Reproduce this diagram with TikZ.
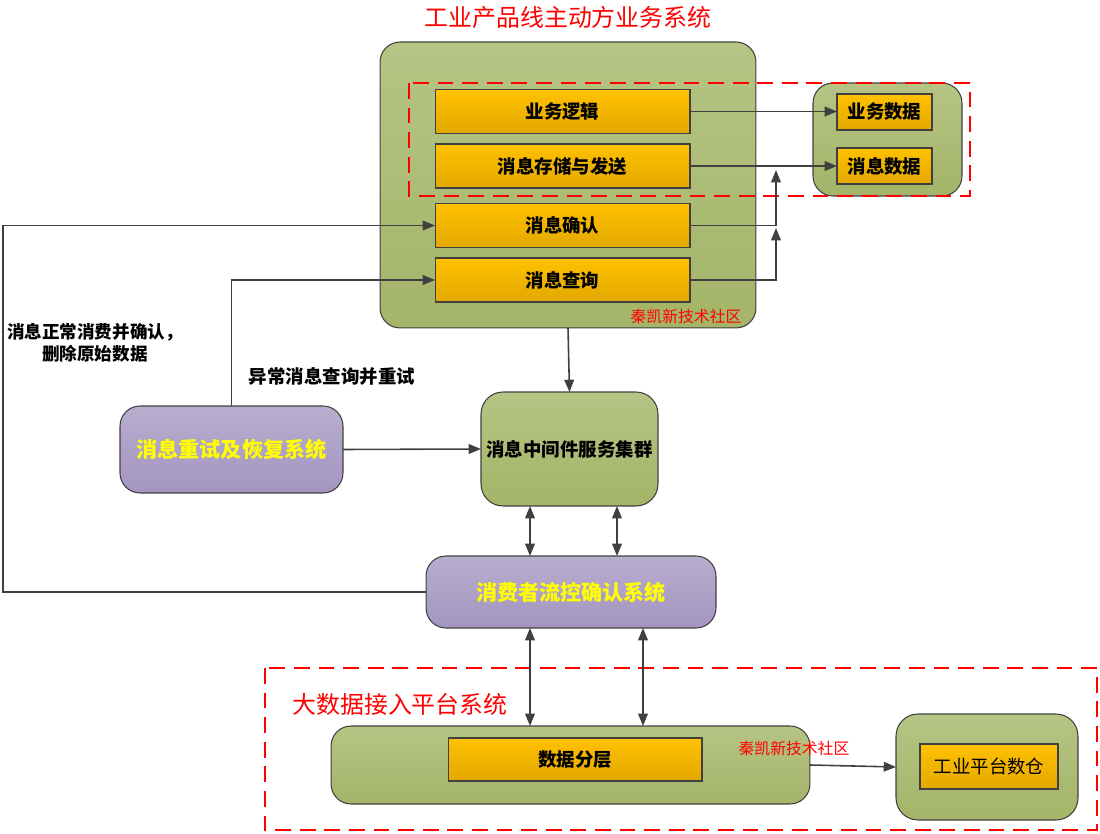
\documentclass[tikz,border=0pt]{standalone}
\usepackage{fontspec}
\setmainfont{Noto Sans CJK SC}
\usetikzlibrary{arrows.meta}
\definecolor{greentop}{RGB}{182,196,132}
\definecolor{greenbot}{RGB}{164,180,104}
\definecolor{orangetop}{RGB}{255,193,0}
\definecolor{orangebot}{RGB}{227,168,0}
\definecolor{purpletop}{RGB}{185,173,207}
\definecolor{purplebot}{RGB}{163,149,191}
\definecolor{edgegray}{RGB}{64,64,64}
\definecolor{markred}{RGB}{255,0,0}
\definecolor{textyellow}{RGB}{255,255,0}
\def\topframe{(409,83) rectangle (970,196)}
\def\bottomframe{(265,668) rectangle (1097,830)}
\tikzset{boxbase/.style={draw=edgegray, line width=0.6pt, inner sep=0pt, outer sep=0pt},
	greenbox/.style={boxbase, rounded corners=0.4cm, top color=greentop, bottom color=greenbot},
	orangebox/.style={boxbase, top color=orangetop, bottom color=orangebot, font=\fontsize{10.5}{12}\selectfont\bfseries},
	purplebox/.style={boxbase, rounded corners=0.4cm, top color=purpletop, bottom color=purplebot, text=textyellow, font=\fontsize{12}{14}\selectfont\bfseries},
	redframe/.style={draw=markred, dash pattern=on 9pt off 5pt, line width=0.7pt},
	arr/.style={draw=edgegray, line width=0.9pt, -{Triangle[length=7pt,width=5.5pt]}},
	biarr/.style={draw=edgegray, line width=0.9pt, {Triangle[length=7pt,width=5.5pt]}-{Triangle[length=7pt,width=5.5pt]}},
	stamp/.style={text=markred, font=\fontsize{9}{10}\selectfont},
	note/.style={font=\fontsize{10}{12.5}\selectfont\bfseries, align=center}}

\begin{document}
\begin{tikzpicture}[x=0.02cm, y=-0.02cm]
	\useasboundingbox (0,0) rectangle (1100,834);
	% producer side
	\node[text=markred, font=\fontsize{13.6}{15}\selectfont] (title) at (568,17) {工业产品线主动方业务系统};
	\node[greenbox, minimum width=7.52cm, minimum height=5.72cm] (main) at (568,185) {};
	\node[orangebox, minimum width=5.1cm, minimum height=0.87cm] (logic) at (562.5,111.5) {业务逻辑};
	\node[orangebox, minimum width=5.1cm, minimum height=0.88cm] (store) at (562.5,166) {消息存储与发送};
	\node[orangebox, minimum width=5.1cm, minimum height=0.87cm] (confirm) at (562.5,225.5) {消息确认};
	\node[orangebox, minimum width=5.1cm, minimum height=0.88cm] (query) at (562.5,280) {消息查询};
	\node[stamp] (markA) at (686,316) {秦凯新技术社区};
	\node[greenbox, minimum width=2.98cm, minimum height=2.26cm] (store db) at (887.5,139.5) {};
	\node[orangebox, minimum width=1.9cm, minimum height=0.72cm] (bizdata) at (884.5,112) {业务数据};
	\node[orangebox, minimum width=1.9cm, minimum height=0.72cm] (msgdata) at (884.5,166) {消息数据};
	\draw[redframe] \topframe;
	\coordinate (joinA) at (776,170);
	\coordinate (joinB) at (776,228);
	\draw[arr] (logic.east) -- (logic.east -| bizdata.west);
	\draw[arr] (store.east) -- (store.east -| msgdata.west);
	\draw[arr] (confirm.east) -| (joinA);
	\draw[arr] (query.east) -| (joinB);
	
	% middleware
	\node[purplebox, minimum width=4.46cm, minimum height=1.74cm] (retry) at (231.5,449.5) {消息重试及恢复系统};
	\node[greenbox, rounded corners=0.44cm, minimum width=3.54cm, minimum height=2.28cm, font=\fontsize{10.5}{12}\selectfont\bfseries] (mq) at (569.5,449) {消息中间件服务集群};
	\node[purplebox, minimum width=5.8cm, minimum height=1.44cm] (consumer) at (571,592) {消费者流控确认系统};
	\node[note] (okmsg) at (95,343) {消息正常消费并确认，\\删除原始数据};
	\node[note, font=\fontsize{10.5}{12}\selectfont\bfseries] (retrymsg) at (332,376) {异常消息查询并重试};
	\coordinate (leftc) at (3,225.5);
	\coordinate (c1) at (530,0);
	\coordinate (c2) at (617,0);
	\coordinate (c3) at (643,0);
	\draw[arr] (main.south) -- (mq.north);
	\draw[arr] (retry.east) -- (mq.west);
	\draw[arr] (retry.north) |- (query.west);
	\draw[arr] (consumer.west) -| (leftc) -- (confirm.west);
	\draw[biarr] (mq.south -| c1) -- (consumer.north -| c1);
	\draw[biarr] (mq.south -| c2) -- (consumer.north -| c2);
	
	% big data side
	\draw[redframe] \bottomframe;
	\node[text=markred, font=\fontsize{13.6}{15}\selectfont] (bigtitle) at (400,704) {大数据接入平台系统};
	\node[greenbox, minimum width=9.58cm, minimum height=1.56cm] (bigdata) at (570.5,765) {};
	\node[orangebox, minimum width=5.08cm, minimum height=0.86cm] (layer) at (575,759.5) {数据分层};
	\node[stamp] (markB) at (794,748) {秦凯新技术社区};
	\node[greenbox, rounded corners=0.44cm, minimum width=3.64cm, minimum height=2.12cm] (warehouse) at (987,767) {};
	\node[orangebox, minimum width=2.76cm, minimum height=0.9cm, font=\fontsize{10.5}{12}\selectfont] (dw) at (989,766.5) {工业平台数仓};
	\draw[biarr] (consumer.south -| c1) -- (bigdata.north -| c1);
	\draw[biarr] (consumer.south -| c3) -- (bigdata.north -| c3);
	\draw[arr] (bigdata.east) -- (warehouse.west);
\end{tikzpicture}
\end{document}
